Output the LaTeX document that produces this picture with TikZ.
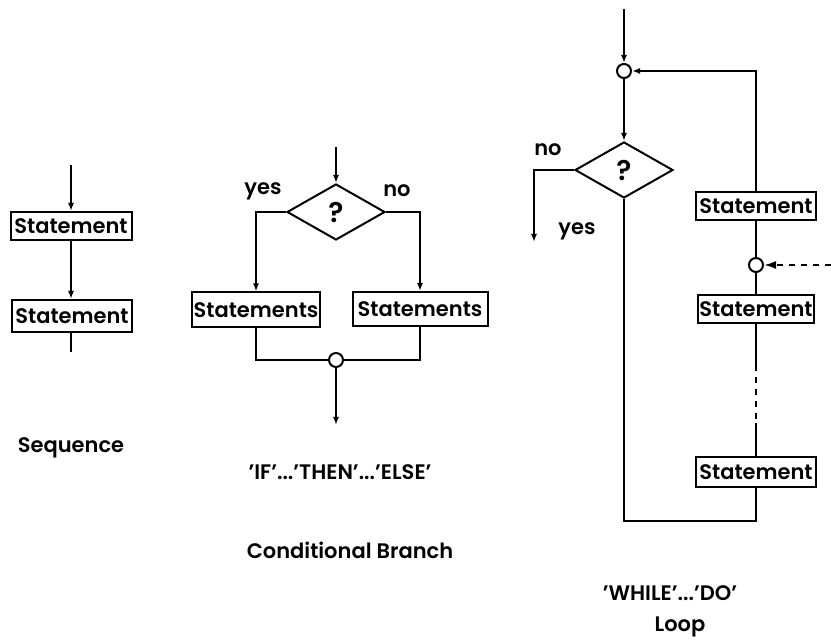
\documentclass[tikz,border=0pt]{standalone}
\usepackage{fontspec}
\setmainfont{Poppins}[UprightFont=* SemiBold]
\usetikzlibrary{shapes.geometric,arrows.meta}

\begin{document}
\begin{tikzpicture}[x=0.5pt, y=-0.5pt, line width=1pt, font=\fontsize{10.5}{12}\selectfont]
\tikzstyle{stmt}=[draw, rectangle, inner sep=0pt, minimum width=60pt, minimum height=14pt]
\tikzstyle{test}=[draw, diamond, inner sep=0pt, minimum width=49pt, minimum height=28pt, font=\fontsize{14}{14}\selectfont]
\tikzstyle{joint}=[draw, circle, fill=white, inner sep=0pt, minimum size=7pt]
\tikzstyle{flow}=[-{Latex[length=4pt,width=3pt]}]
\tikzstyle{tag}=[inner sep=0pt]
    \useasboundingbox (0,0) rectangle (831,640);

    % sequence
    \coordinate (sin) at (71,165);
    \node[stmt, minimum width=60.5pt] (s1) at (71,226) {Statement};
    \node[stmt, minimum height=16pt] (s2) at (72,316) {Statement};
    \coordinate (sout) at (71,352);
    \node[tag] (seq) at (71,448) {Sequence};

    \draw[flow] (sin) -- (s1);
    \draw[flow] (s1) -- (s1 |- s2.north);
    \draw (s1 |- s2.south) -- (sout);

    % conditional branch
    \coordinate (bin) at (336,147);
    \node[test] (d1) at (336,212) {?};
    \node[tag] (yes1) at (263,191) {yes};
    \node[tag] (no1) at (397,191) {no};
    \node[stmt, minimum width=64pt, minimum height=17.5pt] (c1) at (256,310) {Statements};
    \node[stmt, minimum width=67.5pt, minimum height=17pt] (c2) at (420,309) {Statements};
    \node[joint] (j1) at (336,360) {};
    \coordinate (bout) at (336,425);
    \node[tag] (ite) at (340,472) {'IF'...'THEN'...'ELSE'};
    \node[tag] (cond) at (350,550) {Conditional Branch};

    \draw[flow] (bin) -- (d1);
    \draw[flow] (d1.west) -| (c1);
    \draw[flow] (d1.east) -| (c2);
    \draw (c1) |- (j1);
    \draw (c2) |- (j1);
    \draw[flow] (j1) -- (bout);

    % loop
    \coordinate (lin) at (624,9);
    \node[joint] (j2) at (624,71) {};
    \node[test] (d2) at (624,170) {?};
    \node[tag] (no2) at (548,150) {no};
    \node[tag] (yes2) at (577,231) {yes};
    \coordinate (lno) at (534,242);
    \node[stmt] (a) at (756,206) {Statement};
    \node[joint] (j3) at (756,265) {};
    \coordinate (jin) at (831,265);
    \node[stmt, minimum width=58pt] (b) at (756,309) {Statement};
    \coordinate (dots1) at (756,365);
    \coordinate (dots2) at (756,423);
    \node[stmt, minimum height=15pt] (c) at (756,472) {Statement};
    \coordinate (lend) at (624,521);
    \node[tag] (wd) at (670,593) {'WHILE'...'DO'};
    \node[tag] (loop) at (680,627) {Loop};

    \draw[flow] (lin) -- (j2);
    \draw[flow] (j2) -- (d2);
    \draw[flow] (d2.west) -| (lno);
    \draw (d2) |- (c.south |- lend) -- (c);
    \draw[flow] (a) |- (j2);
    \draw (a) -- (j3);
    \draw[dashed, -{Latex[length=6pt,width=4pt]}] (jin) -- (j3);
    \draw (j3) -- (b);
    \draw (b) -- (dots1);
    \draw[dashed] (dots1) -- (dots2);
    \draw (dots2) -- (c);

\end{tikzpicture}
\end{document}
